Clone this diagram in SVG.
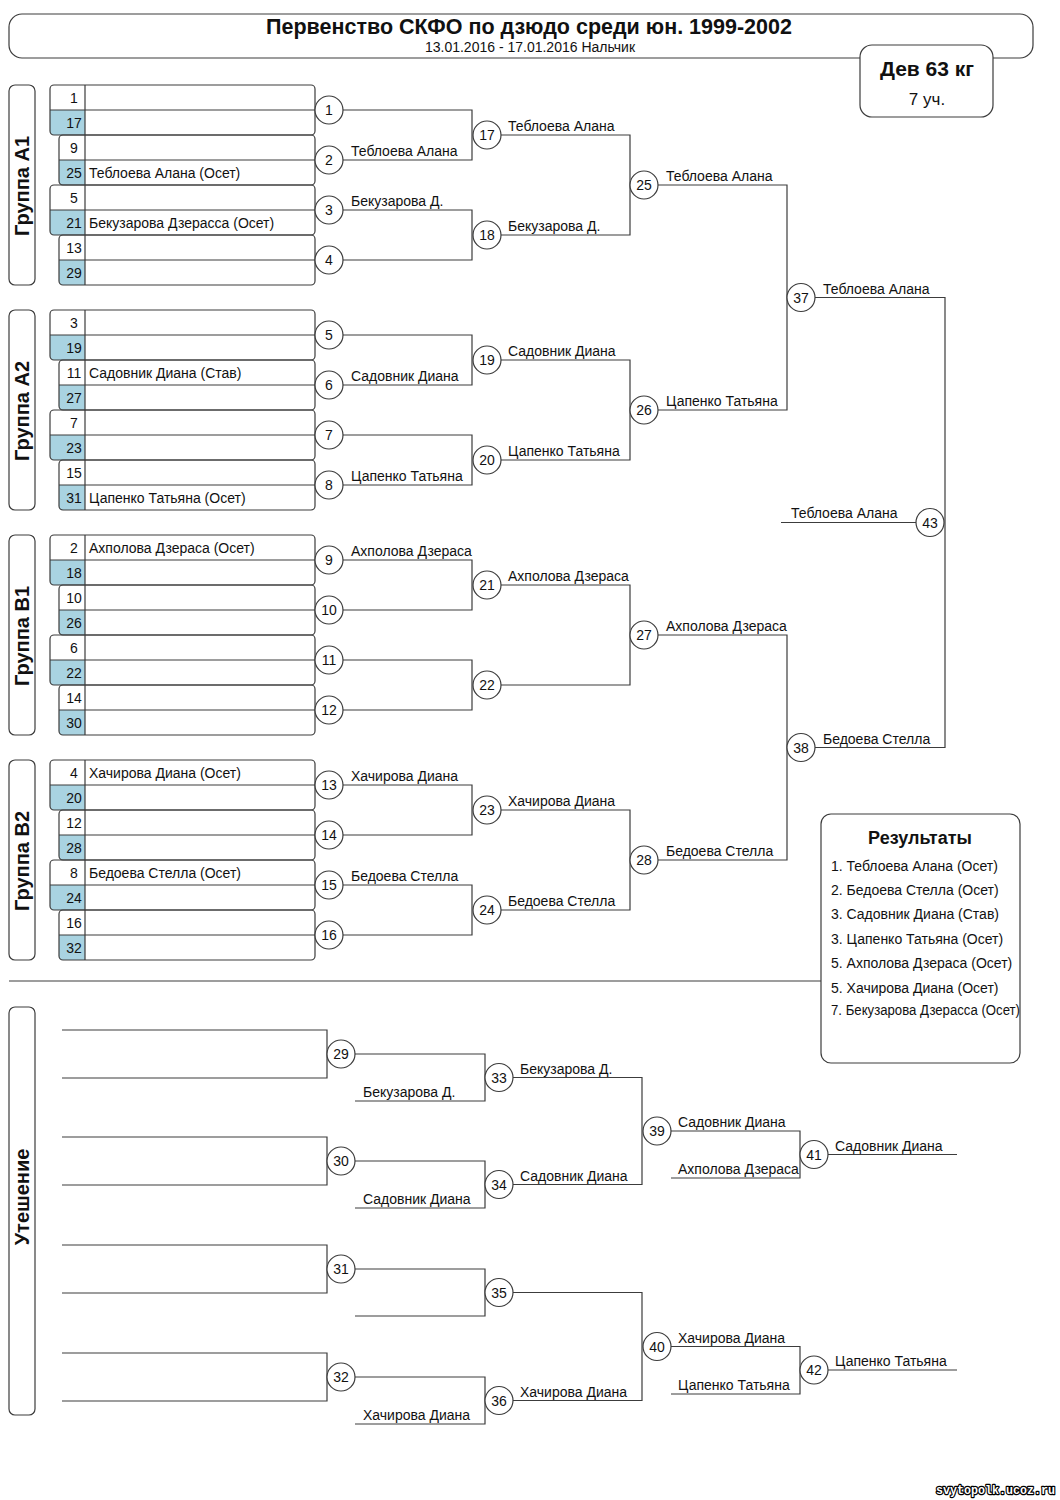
<svg xmlns="http://www.w3.org/2000/svg" width="1060" height="1500" viewBox="0 0 1060 1500">
<style>
.ln{fill:none;stroke:#3c3c3c;stroke-width:1.2}
.bx{fill:none;stroke:#3c3c3c;stroke-width:1.2}
.wb{fill:#fff;stroke:#3c3c3c;stroke-width:1.2}
.bl{fill:#a9d3e1}
.c{fill:#fff;stroke:#3c3c3c;stroke-width:1.2}
text{font-family:"Liberation Sans",Arial,sans-serif;font-size:14px;fill:#111}
.m{text-anchor:middle}
.gl{font-weight:bold;font-size:20px;text-anchor:middle}
</style>
<rect width="1060" height="1500" fill="#fff"/>

<g id="header">
<rect class="bx" x="9" y="14" width="1024" height="44" rx="13"/>
<text class="m" x="529" y="34" style="font-size:21.5px;font-weight:bold">Первенство СКФО по дзюдо среди юн. 1999-2002</text>
<text class="m" x="530" y="52" style="font-size:14px">13.01.2016 - 17.01.2016 Нальчик</text>
</g>
<g id="weight">
<rect class="wb" x="860" y="45" width="133" height="72" rx="12"/>
<text class="m" x="927" y="76" style="font-size:21px;font-weight:bold">Дев 63 кг</text>
<text class="m" x="927" y="105" style="font-size:17px">7 уч.</text>
</g>

<g id="group-labels">
<rect class="bx" x="9" y="85" width="26" height="200" rx="6"/>
<text class="gl" transform="translate(29,186) rotate(-90)">Группа А1</text>
<rect class="bx" x="9" y="310" width="26" height="200" rx="6"/>
<text class="gl" transform="translate(29,411) rotate(-90)">Группа А2</text>
<rect class="bx" x="9" y="535" width="26" height="200" rx="6"/>
<text class="gl" transform="translate(29,636) rotate(-90)">Группа В1</text>
<rect class="bx" x="9" y="760" width="26" height="200" rx="6"/>
<text class="gl" transform="translate(29,861) rotate(-90)">Группа В2</text>
<rect class="bx" x="9" y="1007" width="26" height="408" rx="6"/>
<text class="gl" transform="translate(29,1197) rotate(-90)">Утешение</text>
</g>

<g id="entries">
<g id="pair-1-17">
<path class="bl" d="M50 110H85V135H54Q50 135 50 131Z"/>
<rect class="bx" x="50" y="85" width="265" height="50" rx="4"/>
<path class="ln" d="M50 110H315M85 85V135"/>
<text class="m" x="74" y="102.5">1</text><text class="m" x="74" y="127.5">17</text>
</g>
<g id="pair-9-25">
<path class="bl" d="M59 160H85V185H63Q59 185 59 181Z"/>
<rect class="bx" x="59" y="135" width="256" height="50" rx="4"/>
<path class="ln" d="M59 160H315M85 135V185"/>
<text class="m" x="74" y="152.5">9</text><text class="m" x="74" y="177.5">25</text>
<text x="89" y="177.5">Теблоева Алана (Осет)</text>
</g>
<g id="pair-5-21">
<path class="bl" d="M50 210H85V235H54Q50 235 50 231Z"/>
<rect class="bx" x="50" y="185" width="265" height="50" rx="4"/>
<path class="ln" d="M50 210H315M85 185V235"/>
<text class="m" x="74" y="202.5">5</text><text class="m" x="74" y="227.5">21</text>
<text x="89" y="227.5">Бекузарова Дзерасса (Осет)</text>
</g>
<g id="pair-13-29">
<path class="bl" d="M59 260H85V285H63Q59 285 59 281Z"/>
<rect class="bx" x="59" y="235" width="256" height="50" rx="4"/>
<path class="ln" d="M59 260H315M85 235V285"/>
<text class="m" x="74" y="252.5">13</text><text class="m" x="74" y="277.5">29</text>
</g>
<g id="pair-3-19">
<path class="bl" d="M50 335H85V360H54Q50 360 50 356Z"/>
<rect class="bx" x="50" y="310" width="265" height="50" rx="4"/>
<path class="ln" d="M50 335H315M85 310V360"/>
<text class="m" x="74" y="327.5">3</text><text class="m" x="74" y="352.5">19</text>
</g>
<g id="pair-11-27">
<path class="bl" d="M59 385H85V410H63Q59 410 59 406Z"/>
<rect class="bx" x="59" y="360" width="256" height="50" rx="4"/>
<path class="ln" d="M59 385H315M85 360V410"/>
<text class="m" x="74" y="377.5">11</text><text class="m" x="74" y="402.5">27</text>
<text x="89" y="377.5">Садовник Диана (Став)</text>
</g>
<g id="pair-7-23">
<path class="bl" d="M50 435H85V460H54Q50 460 50 456Z"/>
<rect class="bx" x="50" y="410" width="265" height="50" rx="4"/>
<path class="ln" d="M50 435H315M85 410V460"/>
<text class="m" x="74" y="427.5">7</text><text class="m" x="74" y="452.5">23</text>
</g>
<g id="pair-15-31">
<path class="bl" d="M59 485H85V510H63Q59 510 59 506Z"/>
<rect class="bx" x="59" y="460" width="256" height="50" rx="4"/>
<path class="ln" d="M59 485H315M85 460V510"/>
<text class="m" x="74" y="477.5">15</text><text class="m" x="74" y="502.5">31</text>
<text x="89" y="502.5">Цапенко Татьяна (Осет)</text>
</g>
<g id="pair-2-18">
<path class="bl" d="M50 560H85V585H54Q50 585 50 581Z"/>
<rect class="bx" x="50" y="535" width="265" height="50" rx="4"/>
<path class="ln" d="M50 560H315M85 535V585"/>
<text class="m" x="74" y="552.5">2</text><text class="m" x="74" y="577.5">18</text>
<text x="89" y="552.5">Ахполова Дзераса (Осет)</text>
</g>
<g id="pair-10-26">
<path class="bl" d="M59 610H85V635H63Q59 635 59 631Z"/>
<rect class="bx" x="59" y="585" width="256" height="50" rx="4"/>
<path class="ln" d="M59 610H315M85 585V635"/>
<text class="m" x="74" y="602.5">10</text><text class="m" x="74" y="627.5">26</text>
</g>
<g id="pair-6-22">
<path class="bl" d="M50 660H85V685H54Q50 685 50 681Z"/>
<rect class="bx" x="50" y="635" width="265" height="50" rx="4"/>
<path class="ln" d="M50 660H315M85 635V685"/>
<text class="m" x="74" y="652.5">6</text><text class="m" x="74" y="677.5">22</text>
</g>
<g id="pair-14-30">
<path class="bl" d="M59 710H85V735H63Q59 735 59 731Z"/>
<rect class="bx" x="59" y="685" width="256" height="50" rx="4"/>
<path class="ln" d="M59 710H315M85 685V735"/>
<text class="m" x="74" y="702.5">14</text><text class="m" x="74" y="727.5">30</text>
</g>
<g id="pair-4-20">
<path class="bl" d="M50 785H85V810H54Q50 810 50 806Z"/>
<rect class="bx" x="50" y="760" width="265" height="50" rx="4"/>
<path class="ln" d="M50 785H315M85 760V810"/>
<text class="m" x="74" y="777.5">4</text><text class="m" x="74" y="802.5">20</text>
<text x="89" y="777.5">Хачирова Диана (Осет)</text>
</g>
<g id="pair-12-28">
<path class="bl" d="M59 835H85V860H63Q59 860 59 856Z"/>
<rect class="bx" x="59" y="810" width="256" height="50" rx="4"/>
<path class="ln" d="M59 835H315M85 810V860"/>
<text class="m" x="74" y="827.5">12</text><text class="m" x="74" y="852.5">28</text>
</g>
<g id="pair-8-24">
<path class="bl" d="M50 885H85V910H54Q50 910 50 906Z"/>
<rect class="bx" x="50" y="860" width="265" height="50" rx="4"/>
<path class="ln" d="M50 885H315M85 860V910"/>
<text class="m" x="74" y="877.5">8</text><text class="m" x="74" y="902.5">24</text>
<text x="89" y="877.5">Бедоева Стелла (Осет)</text>
</g>
<g id="pair-16-32">
<path class="bl" d="M59 935H85V960H63Q59 960 59 956Z"/>
<rect class="bx" x="59" y="910" width="256" height="50" rx="4"/>
<path class="ln" d="M59 935H315M85 910V960"/>
<text class="m" x="74" y="927.5">16</text><text class="m" x="74" y="952.5">32</text>
</g>
</g>

<g id="connectors">
<path class="ln" d="M343 110H472V160H343M343 210H472V260H343M501 135H630V235H501M658 185H787V410H658"/>
<path class="ln" d="M343 335H472V385H343M343 435H472V485H343M501 360H630V460H501"/>
<path class="ln" d="M343 560H472V610H343M343 660H472V710H343M501 585H630V685H501M658 635H787V860H658"/>
<path class="ln" d="M343 785H472V835H343M343 885H472V935H343M501 810H630V910H501"/>
<path class="ln" d="M815 297.5H945V747.5H815M781 522.5H916"/>
<path class="ln" d="M9 981H821"/>
<path class="ln" d="M62 1030H327V1078H62M355 1054H485V1101H355M62 1137H327V1185H62M355 1161H485V1208H355"/>
<path class="ln" d="M62 1245H327V1293H62M355 1269H485V1316H355M62 1353H327V1401H62M355 1377H485V1424H355"/>
<path class="ln" d="M513 1077.5H642V1184.5H513M513 1292.5H642V1400.5H513"/>
<path class="ln" d="M671 1131H800V1178H671M828 1154.5H957M671 1346.5H800V1394H671M828 1370H957"/>
</g>

<g id="winner-labels">
<text x="351" y="156">Теблоева Алана</text>
<text x="351" y="206">Бекузарова Д.</text>
<text x="351" y="381">Садовник Диана</text>
<text x="351" y="481">Цапенко Татьяна</text>
<text x="351" y="556">Ахполова Дзераса</text>
<text x="351" y="781">Хачирова Диана</text>
<text x="351" y="881">Бедоева Стелла</text>
<text x="508" y="131">Теблоева Алана</text>
<text x="508" y="231">Бекузарова Д.</text>
<text x="508" y="356">Садовник Диана</text>
<text x="508" y="456">Цапенко Татьяна</text>
<text x="508" y="581">Ахполова Дзераса</text>
<text x="508" y="806">Хачирова Диана</text>
<text x="508" y="906">Бедоева Стелла</text>
<text x="666" y="181">Теблоева Алана</text>
<text x="666" y="406">Цапенко Татьяна</text>
<text x="666" y="631">Ахполова Дзераса</text>
<text x="666" y="856">Бедоева Стелла</text>
<text x="823" y="293.5">Теблоева Алана</text>
<text x="823" y="743.5">Бедоева Стелла</text>
<text x="791" y="518">Теблоева Алана</text>
<text x="363" y="1097">Бекузарова Д.</text>
<text x="363" y="1204">Садовник Диана</text>
<text x="363" y="1420">Хачирова Диана</text>
<text x="520" y="1073.5">Бекузарова Д.</text>
<text x="520" y="1180.5">Садовник Диана</text>
<text x="520" y="1396.5">Хачирова Диана</text>
<text x="678" y="1127">Садовник Диана</text>
<text x="678" y="1174">Ахполова Дзераса</text>
<text x="835" y="1150.5">Садовник Диана</text>
<text x="678" y="1342.5">Хачирова Диана</text>
<text x="678" y="1390">Цапенко Татьяна</text>
<text x="835" y="1366">Цапенко Татьяна</text>
</g>

<g id="matches">
<g id="m1"><circle class="c" cx="329" cy="110" r="14"/><text class="m" x="329" y="115">1</text></g>
<g id="m2"><circle class="c" cx="329" cy="160" r="14"/><text class="m" x="329" y="165">2</text></g>
<g id="m3"><circle class="c" cx="329" cy="210" r="14"/><text class="m" x="329" y="215">3</text></g>
<g id="m4"><circle class="c" cx="329" cy="260" r="14"/><text class="m" x="329" y="265">4</text></g>
<g id="m5"><circle class="c" cx="329" cy="335" r="14"/><text class="m" x="329" y="340">5</text></g>
<g id="m6"><circle class="c" cx="329" cy="385" r="14"/><text class="m" x="329" y="390">6</text></g>
<g id="m7"><circle class="c" cx="329" cy="435" r="14"/><text class="m" x="329" y="440">7</text></g>
<g id="m8"><circle class="c" cx="329" cy="485" r="14"/><text class="m" x="329" y="490">8</text></g>
<g id="m9"><circle class="c" cx="329" cy="560" r="14"/><text class="m" x="329" y="565">9</text></g>
<g id="m10"><circle class="c" cx="329" cy="610" r="14"/><text class="m" x="329" y="615">10</text></g>
<g id="m11"><circle class="c" cx="329" cy="660" r="14"/><text class="m" x="329" y="665">11</text></g>
<g id="m12"><circle class="c" cx="329" cy="710" r="14"/><text class="m" x="329" y="715">12</text></g>
<g id="m13"><circle class="c" cx="329" cy="785" r="14"/><text class="m" x="329" y="790">13</text></g>
<g id="m14"><circle class="c" cx="329" cy="835" r="14"/><text class="m" x="329" y="840">14</text></g>
<g id="m15"><circle class="c" cx="329" cy="885" r="14"/><text class="m" x="329" y="890">15</text></g>
<g id="m16"><circle class="c" cx="329" cy="935" r="14"/><text class="m" x="329" y="940">16</text></g>
<g id="m17"><circle class="c" cx="487" cy="135" r="14"/><text class="m" x="487" y="140">17</text></g>
<g id="m18"><circle class="c" cx="487" cy="235" r="14"/><text class="m" x="487" y="240">18</text></g>
<g id="m19"><circle class="c" cx="487" cy="360" r="14"/><text class="m" x="487" y="365">19</text></g>
<g id="m20"><circle class="c" cx="487" cy="460" r="14"/><text class="m" x="487" y="465">20</text></g>
<g id="m21"><circle class="c" cx="487" cy="585" r="14"/><text class="m" x="487" y="590">21</text></g>
<g id="m22"><circle class="c" cx="487" cy="685" r="14"/><text class="m" x="487" y="690">22</text></g>
<g id="m23"><circle class="c" cx="487" cy="810" r="14"/><text class="m" x="487" y="815">23</text></g>
<g id="m24"><circle class="c" cx="487" cy="910" r="14"/><text class="m" x="487" y="915">24</text></g>
<g id="m25"><circle class="c" cx="644" cy="185" r="14"/><text class="m" x="644" y="190">25</text></g>
<g id="m26"><circle class="c" cx="644" cy="410" r="14"/><text class="m" x="644" y="415">26</text></g>
<g id="m27"><circle class="c" cx="644" cy="635" r="14"/><text class="m" x="644" y="640">27</text></g>
<g id="m28"><circle class="c" cx="644" cy="860" r="14"/><text class="m" x="644" y="865">28</text></g>
<g id="m37"><circle class="c" cx="801" cy="297.5" r="14"/><text class="m" x="801" y="302.5">37</text></g>
<g id="m38"><circle class="c" cx="801" cy="747.5" r="14"/><text class="m" x="801" y="752.5">38</text></g>
<g id="m43"><circle class="c" cx="930" cy="522.5" r="14"/><text class="m" x="930" y="527.5">43</text></g>
<g id="m29"><circle class="c" cx="341" cy="1054" r="14"/><text class="m" x="341" y="1059">29</text></g>
<g id="m30"><circle class="c" cx="341" cy="1161" r="14"/><text class="m" x="341" y="1166">30</text></g>
<g id="m31"><circle class="c" cx="341" cy="1269" r="14"/><text class="m" x="341" y="1274">31</text></g>
<g id="m32"><circle class="c" cx="341" cy="1377" r="14"/><text class="m" x="341" y="1382">32</text></g>
<g id="m33"><circle class="c" cx="499" cy="1077.5" r="14"/><text class="m" x="499" y="1082.5">33</text></g>
<g id="m34"><circle class="c" cx="499" cy="1184.5" r="14"/><text class="m" x="499" y="1189.5">34</text></g>
<g id="m35"><circle class="c" cx="499" cy="1292.5" r="14"/><text class="m" x="499" y="1297.5">35</text></g>
<g id="m36"><circle class="c" cx="499" cy="1400.5" r="14"/><text class="m" x="499" y="1405.5">36</text></g>
<g id="m39"><circle class="c" cx="657" cy="1131" r="14"/><text class="m" x="657" y="1136">39</text></g>
<g id="m40"><circle class="c" cx="657" cy="1346.5" r="14"/><text class="m" x="657" y="1351.5">40</text></g>
<g id="m41"><circle class="c" cx="814" cy="1154.5" r="14"/><text class="m" x="814" y="1159.5">41</text></g>
<g id="m42"><circle class="c" cx="814" cy="1370" r="14"/><text class="m" x="814" y="1375">42</text></g>
</g>

<g id="results">
<rect class="wb" x="821" y="814" width="199" height="249" rx="10"/>
<text class="m" x="920" y="844" style="font-size:18px;font-weight:bold">Результаты</text>
<text x="831" y="871">1. Теблоева Алана (Осет)</text>
<text x="831" y="895">2. Бедоева Стелла (Осет)</text>
<text x="831" y="919">3. Садовник Диана (Став)</text>
<text x="831" y="943.5">3. Цапенко Татьяна (Осет)</text>
<text x="831" y="968">5. Ахполова Дзераса (Осет)</text>
<text x="831" y="992.5">5. Хачирова Диана (Осет)</text>
<text x="831" y="1015" textLength="189" lengthAdjust="spacingAndGlyphs">7. Бекузарова Дзерасса (Осет)</text>
</g>

<g id="watermark">
<text x="936" y="1494" textLength="119" lengthAdjust="spacingAndGlyphs" style="font-family:'Liberation Mono',monospace;font-weight:bold;font-size:12px;fill:#fff;stroke:#000;stroke-width:2.4;paint-order:stroke;stroke-linejoin:round">svytopolk.ucoz.ru</text>
</g>
</svg>
